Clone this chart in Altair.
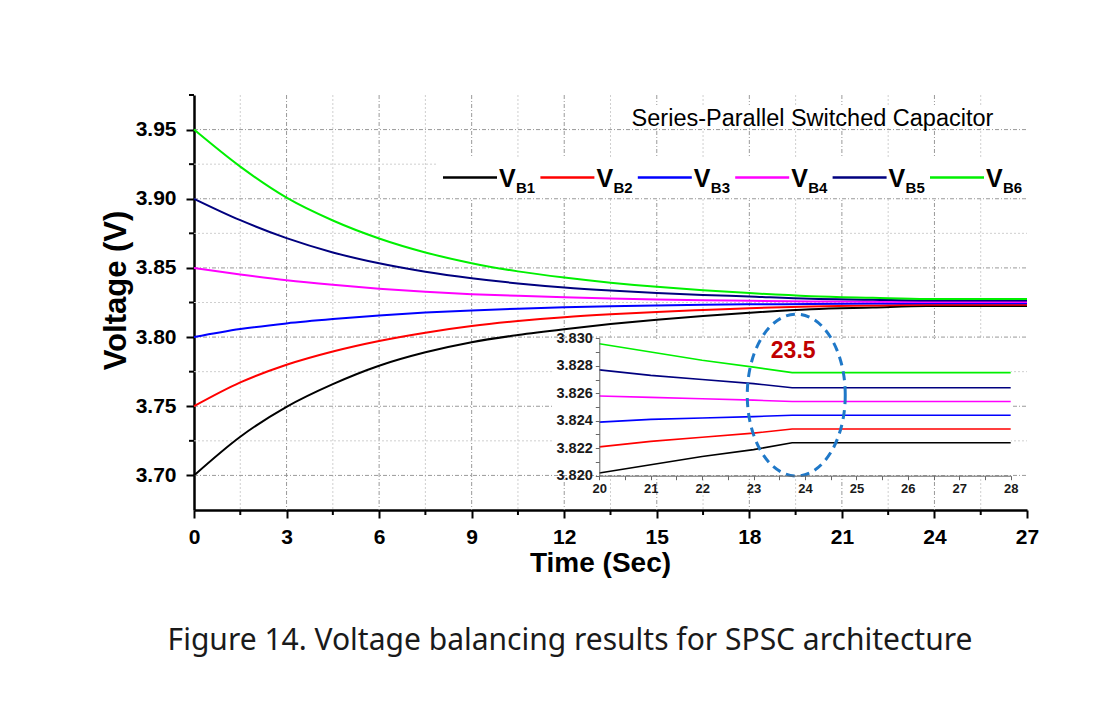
import altair as alt
import pandas as pd

# plot-area size in pixels (main panel)
W, H = 833, 415

# ---- main curves: cell voltages vs time ----
t_main = [0, 1.5, 3, 4.5, 6, 7.5, 9, 10.5, 12, 13.5, 15, 16.5, 18, 20, 22, 23.75, 27]
vb1 = [3.700, 3.7280, 3.7496, 3.7660, 3.7793, 3.7890, 3.7963, 3.8015, 3.8057, 3.8094, 3.8125, 3.8152, 3.8176, 3.8202, 3.8214, 3.8224, 3.8224]
vb2 = [3.750, 3.7672, 3.7800, 3.7896, 3.7972, 3.8032, 3.8080, 3.8116, 3.8144, 3.8165, 3.8182, 3.8196, 3.8209, 3.8221, 3.8228, 3.8234, 3.8234]
vb3 = [3.800, 3.8058, 3.8099, 3.8130, 3.8156, 3.8177, 3.8193, 3.8205, 3.8215, 3.8223, 3.8229, 3.8234, 3.8237, 3.8239, 3.8242, 3.8244, 3.8244]
vb4 = [3.850, 3.8453, 3.8411, 3.8378, 3.8350, 3.8327, 3.8310, 3.8298, 3.8288, 3.8279, 3.8272, 3.8267, 3.8262, 3.8258, 3.8256, 3.8254, 3.8254]
vb5 = [3.900, 3.8845, 3.8715, 3.8612, 3.8533, 3.8472, 3.8425, 3.8388, 3.8359, 3.8337, 3.8319, 3.8305, 3.8293, 3.8277, 3.8270, 3.8264, 3.8264]
vb6 = [3.950, 3.9232, 3.9008, 3.8843, 3.8713, 3.8612, 3.8534, 3.8475, 3.8430, 3.8393, 3.8363, 3.8339, 3.8318, 3.8296, 3.8284, 3.8275, 3.8275]

# ---- zoomed view 20..28 s ----
t_zoom = [20, 21, 22, 23, 23.75, 28]
z1 = [3.8202, 3.8208, 3.8214, 3.8219, 3.8224, 3.8224]
z2 = [3.8221, 3.8225, 3.8228, 3.8231, 3.8234, 3.8234]
z3 = [3.8239, 3.8241, 3.8242, 3.8243, 3.8244, 3.8244]
z4 = [3.8258, 3.8257, 3.8256, 3.8255, 3.8254, 3.8254]
z5 = [3.8277, 3.8273, 3.8270, 3.8267, 3.8264, 3.8264]
z6 = [3.8296, 3.8290, 3.8284, 3.8279, 3.8275, 3.8275]

names = ["VB1", "VB2", "VB3", "VB4", "VB5", "VB6"]
subs = ["B1", "B2", "B3", "B4", "B5", "B6"]
colors = ["#000000", "#ff0000", "#0000ff", "#ff00ff", "#00007f", "#00f000"]

# axis ticks / grid positions
x_ticks = [0, 3, 6, 9, 12, 15, 18, 21, 24, 27]
x_grid = [3, 6, 9, 12, 15, 18, 21, 24]
x_minor = [1.5, 4.5, 7.5, 10.5, 13.5, 16.5, 19.5, 22.5, 25.5]
y_ticks = [3.70, 3.75, 3.80, 3.85, 3.90, 3.95]
y_minor_grid = [3.725, 3.775, 3.825, 3.875, 3.925]
y_minor_ticks = [3.725, 3.775, 3.825, 3.875, 3.925, 3.975]
zx_ticks = [20 + 0.5 * i for i in range(17)]
zy_ticks = [round(3.820 + 0.001 * i, 3) for i in range(11)]

settle_t = 23.75
settle_label = "23.5"

FONT = "Liberation Sans"


def long_df(times, series):
    rows = []
    for n, vals in zip(names, series):
        for t, v in zip(times, vals):
            rows.append({"t": t, "v": v, "s": n})
    return pd.DataFrame(rows)


main_df = long_df(t_main, [vb1, vb2, vb3, vb4, vb5, vb6])
zoom_df = long_df(t_zoom, [z1, z2, z3, z4, z5, z6])

color = alt.Color("s:N", scale=alt.Scale(domain=names, range=colors), legend=None)
xs = alt.Scale(domain=[0, 27], nice=False, zero=False)
ys = alt.Scale(domain=[3.675, 3.975], nice=False, zero=False)

one = pd.DataFrame({"k": [0]})

# ---- grid lines (drawn as rules on the shared scales) ----
MAJ = dict(color="#9a9a9a", strokeWidth=1, strokeDash=[4, 2, 1, 2])
MIN = dict(color="#cfcfcf", strokeWidth=1, strokeDash=[2, 2])

vgrid_min = alt.Chart(pd.DataFrame({"t": x_minor})).mark_rule(**MIN).encode(
    x=alt.X("t:Q", scale=xs), y=alt.value(0), y2=alt.value(H))
vgrid_maj = alt.Chart(pd.DataFrame({"t": x_grid})).mark_rule(**MAJ).encode(
    x=alt.X("t:Q", scale=xs), y=alt.value(0), y2=alt.value(H))
hgrid_min = alt.Chart(pd.DataFrame({"v": y_minor_grid})).mark_rule(**MIN).encode(
    y=alt.Y("v:Q", scale=ys), x=alt.value(0), x2=alt.value(W))
hgrid_maj = alt.Chart(pd.DataFrame({"v": y_ticks})).mark_rule(**MAJ).encode(
    y=alt.Y("v:Q", scale=ys), x=alt.value(0), x2=alt.value(W))

# minor tick marks on the main axes
xminor_ticks = alt.Chart(pd.DataFrame({"t": x_minor})).mark_rule(color="black", strokeWidth=2).encode(
    x=alt.X("t:Q", scale=xs), y=alt.value(H), y2=alt.value(H + 5))
yminor_ticks = alt.Chart(pd.DataFrame({"v": y_minor_ticks})).mark_rule(color="black", strokeWidth=2).encode(
    y=alt.Y("v:Q", scale=ys), x=alt.value(-5), x2=alt.value(0))

# ---- main curves ----
lines = alt.Chart(main_df).mark_line(strokeWidth=2, interpolate="monotone").encode(
    x=alt.X("t:Q", scale=xs, axis=alt.Axis(
        orient="bottom", values=x_ticks, format="d", grid=False,
        domainColor="black", domainWidth=2.5, tickColor="black", tickWidth=2, tickSize=8,
        labelFont=FONT, labelFontWeight="bold", labelFontSize=21, labelColor="black",
        labelPadding=8, labelFlush=False,
        title="Time (Sec)", titleFont=FONT, titleFontWeight="bold", titleFontSize=28,
        titleColor="black", titleX=406, titleY=61, titleAlign="center", titleBaseline="alphabetic")),
    y=alt.Y("v:Q", scale=ys, axis=alt.Axis(
        orient="left", values=y_ticks, format=".2f", grid=False,
        domainColor="black", domainWidth=2.5, tickColor="black", tickWidth=2, tickSize=8,
        labelFont=FONT, labelFontWeight="bold", labelFontSize=21, labelColor="black",
        labelPadding=10,
        title="Voltage (V)", titleFont=FONT, titleFontWeight="bold", titleFontSize=31,
        titleColor="black", titleX=-69, titleY=195, titleAngle=270,
        titleAlign="center", titleBaseline="alphabetic")),
    color=color,
)

# ---- heading and legend ----
title_df = pd.DataFrame({"txt": ["Series-Parallel Switched Capacitor"]})
title_box = alt.Chart(one).mark_rect(color="white").encode(
    x=alt.value(431), x2=alt.value(806), y=alt.value(10), y2=alt.value(33))
title_txt = alt.Chart(title_df).mark_text(
    font=FONT, fontSize=23.5, color="black", align="center", baseline="alphabetic").encode(
    x=alt.value(618.5), y=alt.value(31), text="txt:N")

leg_df = pd.DataFrame({"s": names, "sub": subs, "i": list(range(len(names)))})
leg_base = alt.Chart(leg_df).transform_calculate(x0="249 + datum.i * 97.4")
leg_box = alt.Chart(one).mark_rect(color="white").encode(
    x=alt.value(243), x2=alt.value(W), y=alt.value(63), y2=alt.value(103))
leg_line = leg_base.transform_calculate(x1="datum.x0 + 54").mark_rule(strokeWidth=2.5).encode(
    x=alt.X("x0:Q", scale=None), x2="x1:Q", y=alt.value(82.5), color=color)
leg_v = leg_base.transform_calculate(xv="datum.x0 + 56", lv="'V'").mark_text(
    font=FONT, fontWeight="bold", fontSize=25, color="black", align="left", baseline="alphabetic").encode(
    x=alt.X("xv:Q", scale=None), y=alt.value(92), text="lv:N")
leg_sub = leg_base.transform_calculate(xs_="datum.x0 + 73").mark_text(
    font=FONT, fontWeight="bold", fontSize=15, color="black", align="left", baseline="alphabetic").encode(
    x=alt.X("xs_:Q", scale=None), y=alt.value(98), text="sub:N")

caption_df = pd.DataFrame({"txt": ["Figure 14. Voltage balancing results for SPSC architecture"]})
caption = alt.Chart(caption_df).mark_text(
    font="Noto Sans", fontSize=30, color="#1a1a1a", align="center", baseline="middle").encode(
    x=alt.value(376), y=alt.value(546), text="txt:N")

main = alt.layer(vgrid_min, vgrid_maj, hgrid_min, hgrid_maj, xminor_ticks, yminor_ticks,
                 lines, title_box, title_txt, leg_box, leg_line, leg_v, leg_sub, caption)

# ---- inset: 20..28 s detail ----
xi = alt.Scale(domain=[20, 28], range=[405.3, 816.7], nice=False, zero=False)
yi = alt.Scale(domain=[3.820, 3.830], range=[380.7, 243.3], nice=False, zero=False)

inset_box = alt.Chart(one).mark_rect(color="white").encode(
    x=alt.value(359), x2=alt.value(817), y=alt.value(244), y2=alt.value(380))

inset_lines = alt.Chart(zoom_df).mark_line(strokeWidth=1.6).encode(
    x=alt.X("t:Q", scale=xi, axis=alt.Axis(
        orient="bottom", offset=-34.3, values=zx_ticks, grid=False, zindex=1,
        labelExpr="datum.value % 1 == 0 ? format(datum.value, 'd') : ''",
        domainColor="#666666", domainWidth=1, tickColor="#666666", tickWidth=1, tickSize=4,
        labelFont=FONT, labelFontWeight="bold", labelFontSize=13, labelColor="#1a1a1a",
        labelPadding=3, labelFlush=False, labelOverlap=False, title=None)),
    y=alt.Y("v:Q", scale=yi, axis=alt.Axis(
        orient="left", offset=-405.3, values=zy_ticks, grid=False, zindex=1,
        labelExpr="round(datum.value * 1000) % 2 == 0 ? format(datum.value, '.3f') : ''",
        domainColor="#666666", domainWidth=1, tickColor="#666666", tickWidth=1, tickSize=4,
        labelFont=FONT, labelFontWeight="bold", labelFontSize=14.5, labelColor="#1a1a1a",
        labelPadding=3, labelOverlap=False, title=None)),
    color=color,
)

# dashed ellipse around the settling point
ELLIPSE = ("M1,0 C1,0.912 0.5523,1.651 0,1.651 C-0.5523,1.651 -1,0.912 -1,0 "
           "C-1,-0.912 -0.5523,-1.651 0,-1.651 C0.5523,-1.651 1,-0.912 1,0 Z")
ring_df = pd.DataFrame({"t": [settle_t + 0.08], "v": [3.82587]})
ring = alt.Chart(ring_df).mark_point(
    shape=ELLIPSE, size=9604, filled=False, stroke="#1f78c8", strokeWidth=3,
    strokeDash=[9, 6], opacity=1).encode(
    x=alt.X("t:Q", scale=xi), y=alt.Y("v:Q", scale=yi))

note_df = pd.DataFrame({"t": [settle_t + 0.02], "v": [3.82905], "txt": [settle_label]})
note = alt.Chart(note_df).mark_text(
    font=FONT, fontWeight="bold", fontSize=23, color="#c00000", align="center", baseline="middle").encode(
    x=alt.X("t:Q", scale=xi), y=alt.Y("v:Q", scale=yi), text="txt:N")

inset = alt.layer(inset_box, inset_lines, ring, note)

chart = alt.layer(main, inset).resolve_scale(
    x="independent", y="independent"
).properties(
    width=W, height=H,
    padding={"left": 194, "top": 95, "right": 73, "bottom": 204},
    autosize=alt.AutoSizeParams(type="none"),
    background="white",
).configure_view(stroke=None)

chart.save("out.html", embed_options={"renderer": "svg", "actions": False})
